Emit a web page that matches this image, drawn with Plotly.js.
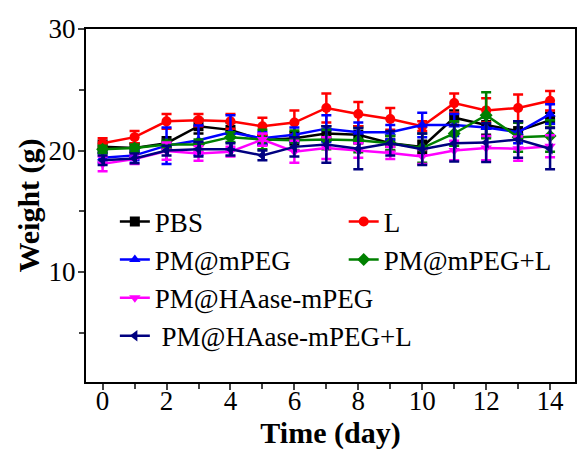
<!DOCTYPE html>
<html>
<head>
<meta charset="utf-8">
<script src="https://cdn.plot.ly/plotly-3.0.1.min.js"></script>
<style>html,body{margin:0;padding:0;background:#fff;}#chart{width:579px;height:450px;}</style>
</head>
<body>
<div id="chart"></div>
<script>
const days = [0,1,2,3,4,5,6,7,8,9,10,11,12,13,14];
const seriesNames = ["PBS","L","PM@mPEG","PM@mPEG+L","PM@HAase-mPEG"," PM@HAase-mPEG+L"];
const pbs      = [20.3,20.2,20.6,22.0,21.7,20.85,21.0,21.4,21.3,20.6,20.3,22.7,22.1,21.6,22.5];
const pbsErr   = [0.5,0.4,0.5,0.6,0.6,0.4,0.5,0.6,0.7,0.6,0.5,0.6,0.8,0.7,0.6];
const lGroup   = [20.6,21.1,22.4,22.5,22.4,22.0,22.3,23.5,23.0,22.6,22.0,23.9,23.3,23.5,24.1];
const lErr     = [0.4,0.5,0.6,0.5,0.6,0.7,1.0,1.2,1.0,0.9,0.4,0.8,1.0,1.1,0.8];
const pmPeg    = [19.4,19.6,20.4,20.85,21.5,21.0,21.3,21.8,21.5,21.5,22.1,22.1,21.9,21.5,23.0];
const pmPegErr = [0.4,0.4,1.5,1.2,1.4,0.5,0.6,1.1,0.8,0.6,1.0,0.9,0.8,0.9,0.8];
const pmPegL   = [20.1,20.2,20.5,20.5,21.1,20.9,20.85,20.9,20.85,20.6,20.2,21.4,22.9,21.1,21.2];
const pmPegLErr= [0.3,0.3,0.3,0.4,0.4,0.8,0.8,0.8,1.0,0.6,1.2,1.0,1.9,1.2,1.3];
const ha       = [18.9,19.3,19.95,19.75,19.9,20.9,19.9,20.2,20.0,19.8,19.5,20.0,20.2,20.15,20.35];
const haErr    = [0.6,0.4,0.7,0.6,0.4,0.5,0.9,0.9,0.6,0.5,0.6,0.8,1.0,1.0,0.9];
const haL      = [19.2,19.35,20.0,20.1,20.1,19.6,20.3,20.5,20.15,20.6,20.1,20.6,20.65,20.9,20.15];
const haLErr   = [0.4,0.4,0.4,0.6,0.5,0.4,0.8,1.5,1.7,1.0,1.3,1.5,1.6,1.5,1.7];

const ys = [pbs,lGroup,pmPeg,pmPegL,ha,haL];
const errs = [pbsErr,lErr,pmPegErr,pmPegLErr,haErr,haLErr];
const colors = ["#000000","#ff0000","#0000ff","#008000","#ff00ff","#000080"];
const symbols = ["square","circle","triangle-up","diamond","triangle-down","triangle-left"];
const legends = ["legend","legend2","legend","legend2","legend","legend"];

const traces = ys.map((y,i)=>({
  x: days, y: y, type:"scatter", mode:"lines+markers", name: seriesNames[i],
  line:{color:colors[i], width:2.5},
  marker:{color:colors[i], symbol:symbols[i], size:10},
  error_y:{type:"data", array:errs[i], visible:true, color:colors[i], thickness:2.5, width:5},
  legend: legends[i], legendgroup: "g"+i
}));

const SERIF = "Liberation Serif";
const tickFont = {family:SERIF, size:27, color:"#000"};
const layout = {
  width:579, height:450,
  font:{family:SERIF},
  margin:{l:86, r:4, t:29, b:68},
  paper_bgcolor:"#fff", plot_bgcolor:"#fff",
  xaxis:{
    range:[-0.52,14.78], tickvals:[0,2,4,6,8,10,12,14], ticks:"outside", ticklen:6, tickwidth:2,
    minor:{tickvals:[1,3,5,7,9,11,13], ticks:"outside", ticklen:5, tickwidth:2},
    showline:true, linewidth:2, linecolor:"#000", mirror:true, showgrid:false, zeroline:false,
    tickfont:tickFont, ticklabelstandoff:-12,
    title:{text:"<b>Time (day)</b>", font:{family:SERIF, size:30, color:"#000"}, standoff:0}
  },
  yaxis:{
    range:[0.95,30], tickvals:[10,20,30], ticks:"outside", ticklen:6, tickwidth:2,
    minor:{tickvals:[5,15,25], ticks:"outside", ticklen:5, tickwidth:2},
    showline:true, linewidth:2, linecolor:"#000", mirror:true, showgrid:false, zeroline:false,
    tickfont:tickFont, ticklabelstandoff:-3,
    title:{text:"<b>Weight (g)</b>", font:{family:SERIF, size:30, color:"#000"}, standoff:0}
  },
  legend:{x:0.059, y:0.523, xanchor:"left", yanchor:"top", bgcolor:"rgba(0,0,0,0)",
    font:{family:SERIF, size:27, color:"#000"}, tracegroupgap:0, itemwidth:30},
  legend2:{x:0.527, y:0.523, xanchor:"left", yanchor:"top", bgcolor:"rgba(0,0,0,0)",
    font:{family:SERIF, size:27, color:"#000"}, tracegroupgap:0, itemwidth:30},
  showlegend:true
};
Plotly.newPlot("chart", traces, layout, {displayModeBar:false, staticPlot:true});
</script>
</body>
</html>
